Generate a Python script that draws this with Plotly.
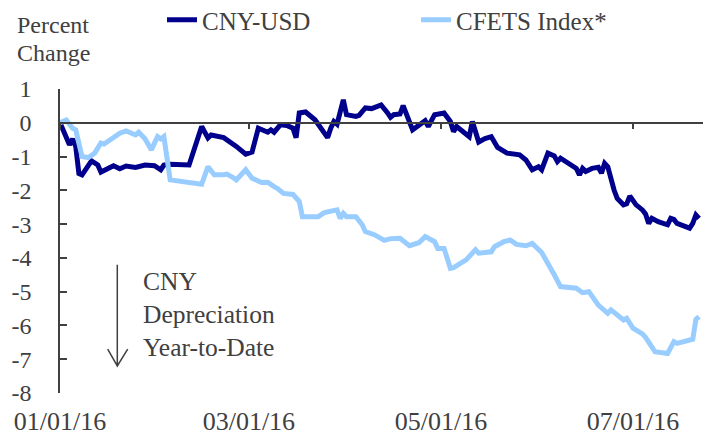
import plotly.graph_objects as go

# ---------------- data ----------------
cny_dates = [
    "2016-01-01", "2016-01-04", "2016-01-05", "2016-01-06", "2016-01-07", "2016-01-08",
    "2016-01-11", "2016-01-13", "2016-01-14", "2016-01-16", "2016-01-18", "2016-01-20",
    "2016-01-22", "2016-01-25", "2016-01-28", "2016-01-31", "2016-02-02", "2016-02-03",
    "2016-02-05", "2016-02-11", "2016-02-15", "2016-02-17", "2016-02-18", "2016-02-22",
    "2016-02-23", "2016-02-26", "2016-02-29", "2016-03-02", "2016-03-04", "2016-03-07",
    "2016-03-08", "2016-03-09", "2016-03-11", "2016-03-13", "2016-03-15", "2016-03-16",
    "2016-03-17", "2016-03-19", "2016-03-22", "2016-03-24", "2016-03-26", "2016-03-27",
    "2016-03-28", "2016-03-29", "2016-03-31", "2016-04-01", "2016-04-04", "2016-04-05",
    "2016-04-07", "2016-04-09", "2016-04-12", "2016-04-14", "2016-04-15", "2016-04-16",
    "2016-04-18", "2016-04-19", "2016-04-20", "2016-04-22", "2016-04-26", "2016-04-27",
    "2016-04-29", "2016-05-02", "2016-05-04", "2016-05-05", "2016-05-06", "2016-05-09",
    "2016-05-10", "2016-05-11", "2016-05-13", "2016-05-15", "2016-05-17", "2016-05-19",
    "2016-05-22", "2016-05-26", "2016-05-28", "2016-05-30", "2016-06-01", "2016-06-02",
    "2016-06-04", "2016-06-06", "2016-06-07", "2016-06-08", "2016-06-11", "2016-06-13",
    "2016-06-14", "2016-06-15", "2016-06-16", "2016-06-18", "2016-06-20", "2016-06-21",
    "2016-06-22", "2016-06-23", "2016-06-25", "2016-06-26", "2016-06-28", "2016-06-29",
    "2016-06-30", "2016-07-02", "2016-07-04", "2016-07-05", "2016-07-06", "2016-07-07",
    "2016-07-09", "2016-07-12", "2016-07-13", "2016-07-14", "2016-07-15", "2016-07-19",
    "2016-07-20", "2016-07-21", "2016-07-22",
]
cny_values = [
    0.00, -0.65, -0.48, -0.70, -1.50, -1.54,
    -1.13, -1.25, -1.46, -1.36, -1.27, -1.36,
    -1.28, -1.32, -1.25, -1.27, -1.39, -1.25,
    -1.23, -1.25, -0.11, -0.45, -0.36, -0.44,
    -0.50, -0.70, -0.93, -0.87, -0.16, -0.28,
    -0.21, -0.28, -0.06, -0.08, -0.16, -0.44,
    0.29, 0.32, 0.09, -0.16, -0.44, -0.16,
    0.04, -0.04, 0.68, 0.24, 0.19, 0.22,
    0.44, 0.42, 0.53, 0.30, 0.16, 0.24,
    0.26, 0.51, 0.29, -0.21, 0.06, -0.11,
    0.24, 0.29, 0.04, -0.26, -0.11, -0.36,
    -0.41, 0.04, -0.57, -0.47, -0.41, -0.73,
    -0.90, -0.95, -1.10, -1.39, -1.30, -1.39,
    -0.90, -0.98, -1.15, -1.05, -1.25, -1.35,
    -1.54, -1.35, -1.44, -1.35, -1.32, -1.49,
    -1.20, -1.30, -1.99, -2.24, -2.43, -2.40,
    -2.17, -2.43, -2.58, -2.70, -2.98, -2.83,
    -2.93, -3.02, -2.83, -2.86, -2.98, -3.12,
    -2.98, -2.73, -2.83,
]

cfets_dates = [
    "2016-01-01", "2016-01-03", "2016-01-05", "2016-01-06", "2016-01-08", "2016-01-10",
    "2016-01-12", "2016-01-14", "2016-01-15", "2016-01-18", "2016-01-20", "2016-01-22",
    "2016-01-25", "2016-01-26", "2016-01-28", "2016-01-30", "2016-02-01", "2016-02-02",
    "2016-02-03", "2016-02-05", "2016-02-09", "2016-02-13", "2016-02-15", "2016-02-17",
    "2016-02-19", "2016-02-22", "2016-02-23", "2016-02-25", "2016-02-26", "2016-02-29",
    "2016-03-02", "2016-03-05", "2016-03-07", "2016-03-09", "2016-03-10", "2016-03-12",
    "2016-03-15", "2016-03-17", "2016-03-18", "2016-03-23", "2016-03-25", "2016-03-29",
    "2016-03-30", "2016-03-31", "2016-04-01", "2016-04-04", "2016-04-06", "2016-04-07",
    "2016-04-10", "2016-04-13", "2016-04-15", "2016-04-18", "2016-04-21", "2016-04-24",
    "2016-04-26", "2016-04-29", "2016-04-30", "2016-05-02", "2016-05-04", "2016-05-05",
    "2016-05-09", "2016-05-12", "2016-05-13", "2016-05-17", "2016-05-18", "2016-05-21",
    "2016-05-23", "2016-05-25", "2016-05-28", "2016-05-30", "2016-06-01", "2016-06-02",
    "2016-06-06", "2016-06-08", "2016-06-13", "2016-06-15", "2016-06-17", "2016-06-20",
    "2016-06-23", "2016-06-24", "2016-06-28", "2016-06-29", "2016-07-01", "2016-07-04",
    "2016-07-05", "2016-07-08", "2016-07-12", "2016-07-14", "2016-07-15", "2016-07-20",
    "2016-07-21", "2016-07-22",
]
cfets_values = [
    0.00, 0.08, -0.16, -0.21, -1.00, -1.03,
    -0.90, -0.60, -0.63, -0.45, -0.31, -0.24,
    -0.36, -0.28, -0.47, -0.80, -0.41, -0.48,
    -0.41, -1.69, -1.74, -1.76, -1.82, -1.30,
    -1.54, -1.54, -1.52, -1.62, -1.69, -1.39,
    -1.64, -1.77, -1.76, -1.89, -1.94, -2.09,
    -2.12, -2.33, -2.78, -2.78, -2.66, -2.58,
    -2.83, -2.68, -2.78, -2.78, -3.02, -3.22,
    -3.32, -3.48, -3.43, -3.42, -3.64, -3.55,
    -3.37, -3.52, -3.72, -3.72, -4.31, -4.29,
    -4.06, -3.76, -3.86, -3.82, -3.67, -3.52,
    -3.47, -3.60, -3.64, -3.57, -3.76, -3.84,
    -4.50, -4.85, -4.90, -5.03, -5.00, -5.40,
    -5.64, -5.54, -5.84, -5.79, -6.08, -6.25,
    -6.35, -6.78, -6.83, -6.48, -6.53, -6.41,
    -5.82, -5.74,
]

x_tick_vals = ["2016-01-01", "2016-03-01", "2016-05-01", "2016-07-01"]
x_tick_text = ["01/01/16", "03/01/16", "05/01/16", "07/01/16"]
y_tick_vals = [1, 0, -1, -2, -3, -4, -5, -6, -7, -8]
y_tick_text = ["1", "0", "-1", "-2", "-3", "-4", "-5", "-6", "-7", "-8"]
x_range = ["2016-01-01", "2016-07-23 06:00"]
y_range = [-8, 1]

# ---------------- styling ----------------
FONT = "Liberation Serif, Times New Roman, serif"
TXT = "#404040"
AX = "#404040"
DARK = "#00008C"
LIGHT = "#99CCFF"

# the page body adds an 8px offset, so the figure is sized to fit inside the window
W, H = 705, 427
ML, MT = 52, 81
PW, PH = 643, 304

fig = go.Figure()
fig.add_trace(go.Scatter(
    x=cny_dates, y=cny_values, name="CNY-USD", mode="lines",
    line=dict(color=DARK, width=5), xaxis="x", yaxis="y",
))
fig.add_trace(go.Scatter(
    x=cfets_dates, y=cfets_values, name="CFETS Index*", mode="lines",
    line=dict(color=LIGHT, width=5), xaxis="x", yaxis="y",
))
# empty trace to carry the bottom label axis
fig.add_trace(go.Scatter(x=[], y=[], xaxis="x2", yaxis="y", showlegend=False,
                         hoverinfo="skip"))

fig.update_layout(
    width=W, height=H,
    margin=dict(l=ML, r=W - ML - PW, t=MT, b=H - MT - PH, pad=0, autoexpand=False),
    paper_bgcolor="white", plot_bgcolor="white",
    font=dict(family=FONT, color=TXT, size=24),
    showlegend=True,
    legend=dict(
        orientation="h", x=(162 - 60) / PW, xanchor="left",
        yref="container", y=1 - 12 / H, yanchor="middle",
        font=dict(family=FONT, size=25, color=TXT),
        bgcolor="rgba(0,0,0,0)", entrywidth=209, entrywidthmode="pixels",
        itemwidth=30, traceorder="normal",
    ),
    # zero line with ticks
    xaxis=dict(
        type="date", range=x_range, anchor="free", position=8 / 9,
        showline=True, linecolor=AX, linewidth=1.5,
        ticks="outside", ticklen=5, tickwidth=1.5, tickcolor=AX,
        tickvals=x_tick_vals, showticklabels=False,
        showgrid=False, zeroline=False,
    ),
    # bottom label axis
    xaxis2=dict(
        type="date", matches="x", overlaying="x", anchor="y", side="bottom",
        showline=False, ticks="", tickvals=x_tick_vals, ticktext=x_tick_text,
        tickfont=dict(family=FONT, size=26, color=TXT),
        showgrid=False, zeroline=False, ticklabelstandoff=10,
    ),
    yaxis=dict(
        range=y_range, showline=True, linecolor=AX, linewidth=1.5,
        ticks="inside", ticklen=7, tickwidth=1.5, tickcolor=AX,
        tickvals=y_tick_vals, ticktext=y_tick_text,
        tickfont=dict(family=FONT, size=24, color=TXT),
        showgrid=False, zeroline=False, ticklabelstandoff=22,
    ),
)

# y-axis title (two lines at the top left)
fig.add_annotation(text="Percent", xref="paper", yref="paper", x=-45 / PW, xanchor="left",
                   y=1.0 + (89 - 25) / PH, yanchor="middle", showarrow=False,
                   font=dict(family=FONT, size=24, color=TXT))
fig.add_annotation(text="Change", xref="paper", yref="paper", x=-45 / PW, xanchor="left",
                   y=1.0 + (89 - 53) / PH, yanchor="middle", showarrow=False,
                   font=dict(family=FONT, size=24, color=TXT))

# depreciation note
fig.add_annotation(text="CNY<br>Depreciation<br>Year-to-Date", xref="paper", yref="y",
                   x=(141 - 60) / PW, xanchor="left", y=-5.69, yanchor="middle",
                   align="left", showarrow=False,
                   font=dict(family=FONT, size=25.5, color=TXT))

# downward arrow (open head)
ax_x = (117.3 - 60) / PW
hl = (107.7 - 60) / PW
hr = (127.7 - 60) / PW
fig.add_shape(type="path", xref="paper", yref="y",
              path=f"M {ax_x} -4.2 L {ax_x} -7.2 M {hl} -6.7 L {ax_x} -7.2 L {hr} -6.7",
              line=dict(color=AX, width=1.5))

fig.write_html("out.html")
